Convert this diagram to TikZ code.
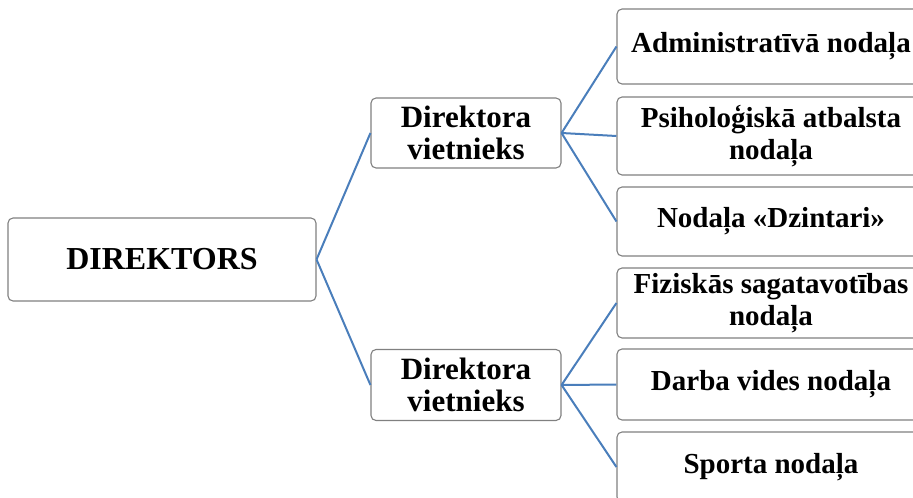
\documentclass[tikz,border=0pt]{standalone}
\usepackage{fontspec}
\setmainfont{Liberation Serif}
\usepackage{tikz}
\usetikzlibrary{positioning}
\definecolor{linkblue}{HTML}{4A7EBB}
\definecolor{boxgray}{HTML}{808080}

\begin{document}
\begin{tikzpicture}[x=1pt,y=-1pt]
	\useasboundingbox (0,0) rectangle (913,498);
	\clip (0,0) rectangle (913,498);
	\begin{scope}[every node/.style={rectangle,draw=boxgray,line width=1.1pt,rounded corners=5pt,inner sep=0pt,align=center,font=\bfseries\fontsize{29}{32}\selectfont}]
		\node[minimum width=308pt,minimum height=83pt,font=\bfseries\fontsize{32}{34}\selectfont] (dir) at (162,259.5) {DIREKTORS};
		\node[minimum width=190pt,minimum height=70pt,font=\bfseries\fontsize{31}{32.7}\selectfont] (dep1) at (466,133) {Direktora\\vietnieks};
		\node[minimum width=190pt,minimum height=71pt,font=\bfseries\fontsize{31}{32.7}\selectfont] (dep2) at (466,385) {Direktora\\vietnieks};
		\node[minimum width=308pt,minimum height=75pt] (adm) at (771,46.5) {Administratīvā nodaļa};
		\node[minimum width=308pt,minimum height=78pt] (psih) at (771,136) {Psiholoģiskā atbalsta\\nodaļa};
		\node[minimum width=308pt,minimum height=69pt] (dzint) at (771,221.5) {Nodaļa «Dzintari»};
		\node[minimum width=308pt,minimum height=70pt] (fiz) at (771,303) {Fiziskās sagatavotības\\nodaļa};
		\node[minimum width=308pt,minimum height=71pt] (darba) at (771,384.5) {Darba vides nodaļa};
		\node[minimum width=308pt,minimum height=70pt] (sport) at (771,467) {Sporta nodaļa};
	\end{scope}
	
	\begin{scope}[line width=2pt,linkblue]
	\draw (dir.east) -- (dep1.west);
	\draw (dir.east) -- (dep2.west);
	\draw (dep1.east) -- (adm.west);
	\draw (dep1.east) -- (psih.west);
	\draw (dep1.east) -- (dzint.west);
	\draw (dep2.east) -- (fiz.west);
	\draw (dep2.east) -- (darba.west);
	\draw (dep2.east) -- (sport.west);
	\end{scope}
\end{tikzpicture}
\end{document}
